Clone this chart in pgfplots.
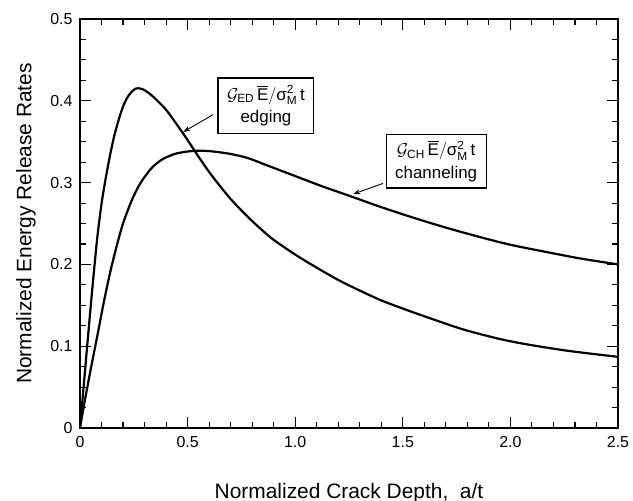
\documentclass[border=0pt]{standalone}
\usepackage{pgfplots}
\pgfplotsset{compat=1.18}
\usepackage{amsmath}
\usepackage{fontspec}
\setmainfont{Liberation Sans}
\usetikzlibrary{arrows.meta,calc}
\begin{document}
\begin{tikzpicture}
\path[use as bounding box] (-80bp,-73bp) rectangle (553bp,428bp);
\begin{axis}[
  at={(0,0)}, anchor=origin,
  scale only axis, width=538bp, height=409bp,
  xmin=0, xmax=2.5, ymin=0, ymax=0.5,
  xtick={0,0.5,1,1.5,2,2.5},
  xticklabels={0,0.5,1.0,1.5,2.0,2.5},
  ytick={0,0.1,0.2,0.3,0.4,0.5},
  yticklabels={0,0.1,0.2,0.3,0.4,0.5},
  minor x tick num=4, minor y tick num=3,
  tick align=inside,
  major tick length=11bp, minor tick length=6bp,
  every tick/.style={black, line width=1.1bp},
  axis line style={line width=1.5bp},
  /pgf/number format/assume math mode=true,
  ticklabel style={font=\fontsize{16}{18}\selectfont},
  xticklabel style={yshift=-5bp},
  yticklabel style={xshift=-4bp},
  label style={font=\fontsize{21}{24}\selectfont},
  xlabel={Normalized Crack Depth,\ \ a/t},
  ylabel={Normalized Energy Release Rates},
  xlabel style={at={(axis description cs:0.5,0)}, anchor=base, yshift=-70bp},
  ylabel style={at={($(axis description cs:0,0.5)+(-54bp,0)$)}, anchor=center},
  clip=true,
]
% edging
\addplot[black, line width=2.2bp, smooth, tension=0.5, line join=round] coordinates {
(0,0) (0.02,0.06) (0.04,0.12) (0.06,0.178) (0.08,0.232) (0.1,0.274)
(0.12,0.306) (0.14,0.334) (0.16,0.358) (0.18,0.377) (0.2,0.393)
(0.22,0.404) (0.24,0.411) (0.26,0.415) (0.28,0.415) (0.3,0.413)
(0.34,0.405) (0.4,0.389) (0.45,0.371) (0.5,0.352) (0.55,0.332)
(0.6,0.313) (0.65,0.296) (0.7,0.280) (0.75,0.266) (0.8,0.253)
(0.85,0.241) (0.9,0.230) (1.0,0.212) (1.1,0.196) (1.2,0.181) (1.3,0.168)
(1.4,0.156) (1.5,0.146) (1.65,0.132) (1.8,0.119) (2.0,0.106) (2.25,0.095) (2.5,0.087)
};
% channeling
\addplot[black, line width=2.2bp, smooth, tension=0.5, line join=round] coordinates {
(0,0) (0.02,0.03) (0.05,0.072) (0.08,0.112) (0.11,0.153) (0.14,0.19)
(0.17,0.222) (0.2,0.25) (0.24,0.278) (0.28,0.299) (0.33,0.317)
(0.38,0.328) (0.44,0.335) (0.5,0.338) (0.56,0.339) (0.62,0.338)
(0.7,0.335) (0.78,0.330) (0.86,0.322) (0.94,0.314) (1.02,0.306)
(1.12,0.296) (1.25,0.284) (1.4,0.270) (1.55,0.257) (1.7,0.245)
(1.85,0.234) (2.0,0.224) (2.17,0.215) (2.33,0.207) (2.5,0.200)
};
\node[draw, line width=1.2bp, fill=white, align=center, inner xsep=9bp, inner ysep=7bp,
  font=\fontsize{17}{23}\selectfont] (ed) at (axis cs:0.864,0.394)
  {$\mathcal{G}_{\text{ED}}\,\overline{\text{E}}/\text{σ}_{\text{M}}^{\text{2}}\,\text{t}$\\edging};
\node[draw, line width=1.2bp, fill=white, align=center, inner xsep=9bp, inner ysep=6bp,
  font=\fontsize{17}{23}\selectfont] (ch) at (axis cs:1.655,0.326)
  {$\mathcal{G}_{\text{CH}}\,\overline{\text{E}}/\text{σ}_{\text{M}}^{\text{2}}\,\text{t}$\\channeling};
\draw[line width=0.9bp, -{Stealth[length=7bp,width=5bp]}] (axis cs:0.618,0.383) -- (axis cs:0.48,0.362);
\draw[line width=0.9bp, -{Stealth[length=7bp,width=5bp]}] (axis cs:1.408,0.299) -- (axis cs:1.27,0.286);
\end{axis}
\end{tikzpicture}
\end{document}
